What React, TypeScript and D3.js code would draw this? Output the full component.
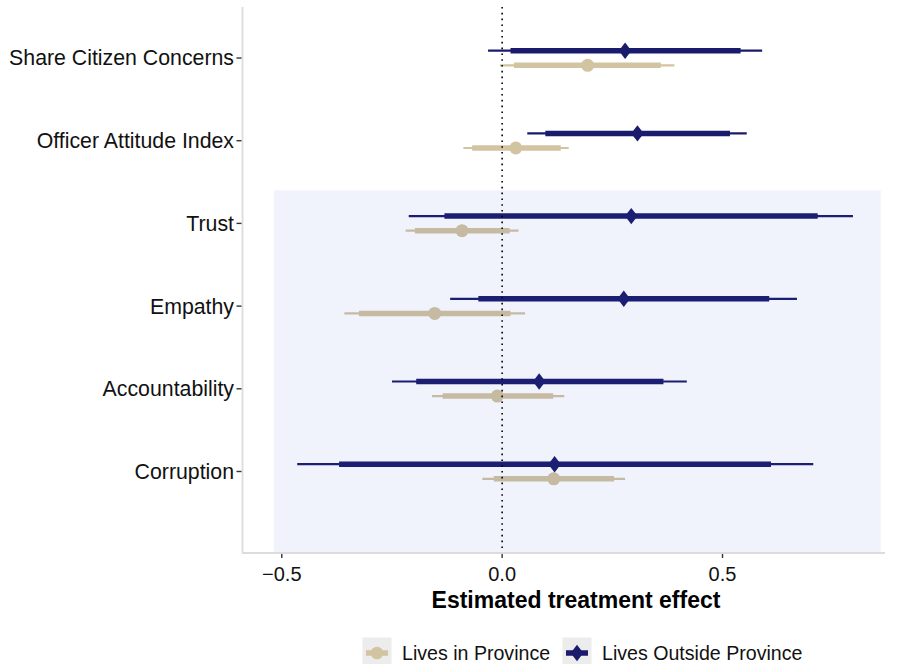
import React from "react";
import * as d3 from "d3";

const categories = [
  "Share Citizen Concerns",
  "Officer Attitude Index",
  "Trust",
  "Empathy",
  "Accountability",
  "Corruption",
];

// Lives in Province (beige, circles)
const inEst = [0.194, 0.031, -0.091, -0.153, -0.011, 0.117];
const inLo95 = [-0.005, -0.088, -0.219, -0.358, -0.159, -0.045];
const inHi95 = [0.391, 0.151, 0.037, 0.052, 0.141, 0.279];
const inLo90 = [0.027, -0.068, -0.198, -0.325, -0.135, -0.019];
const inHi90 = [0.36, 0.133, 0.017, 0.019, 0.116, 0.254];

// Lives Outside Province (navy, diamonds)
const outEst = [0.279, 0.307, 0.293, 0.276, 0.084, 0.119];
const outLo95 = [-0.032, 0.057, -0.212, -0.118, -0.25, -0.465];
const outHi95 = [0.59, 0.555, 0.796, 0.669, 0.419, 0.706];
const outLo90 = [0.019, 0.098, -0.131, -0.054, -0.195, -0.37];
const outHi90 = [0.541, 0.517, 0.716, 0.606, 0.366, 0.61];

const xTicks = [-0.5, 0, 0.5];
const xTickLabels = ["\u22120.5", "0.0", "0.5"];
const legendLabels = ["Lives in Province", "Lives Outside Province"];
const shadeX = [-0.518, 0.859];
const shadeFromCategory = "Trust";

const BEIGE = "#d2c4a0";
const NAVY = "#1b1b6d";
const FONT = "'Liberation Sans', Arial, Helvetica, sans-serif";

export default function App() {
  const W = 897;
  const H = 664;
  const panelLeft = 242.5;
  const panelTop = 7;
  const panelBottom = 553;

  const x = d3.scaleLinear().domain([-0.5, 0.5]).range([281.8, 722.5]);
  const y = d3.scalePoint<string>().domain(categories).range([58, 471.5]);
  const step = y.step();
  const dodge = 7.3;

  const series = [
    { name: legendLabels[0], color: BEIGE, est: inEst, lo95: inLo95, hi95: inHi95, lo90: inLo90, hi90: inHi90, off: dodge, shape: "circle" },
    { name: legendLabels[1], color: NAVY, est: outEst, lo95: outLo95, hi95: outHi95, lo90: outLo90, hi90: outHi90, off: -dodge, shape: "diamond" },
  ];

  const diamond = (cx: number, cy: number, hw: number, hh: number) =>
    `M${cx},${cy - hh}L${cx + hw},${cy}L${cx},${cy + hh}L${cx - hw},${cy}Z`;

  const shadeTop = (y(shadeFromCategory) as number) - 0.4 * step;

  return (
    <svg width={W} height={H} style={{ position: "absolute", left: 0, top: 0, background: "#fff" }} fontFamily={FONT}>
      <rect x={0} y={0} width={W} height={H} fill="#fff" />
      {/* marks */}
      {series.map((s) => (
        <g key={s.name}>
          {categories.map((c, i) => {
            const cy = (y(c) as number) + s.off;
            const cx = x(s.est[i]);
            return (
              <g key={c}>
                <line x1={x(s.lo95[i])} x2={x(s.hi95[i])} y1={cy} y2={cy} stroke={s.color} strokeWidth={2.2} />
                <line x1={x(s.lo90[i])} x2={x(s.hi90[i])} y1={cy} y2={cy} stroke={s.color} strokeWidth={5.5} />
                {s.shape === "circle" ? (
                  <circle cx={cx} cy={cy} r={6.5} fill={s.color} />
                ) : (
                  <path d={diamond(cx, cy, 6.3, 8.2)} fill={s.color} />
                )}
              </g>
            );
          })}
        </g>
      ))}
      {/* shaded region drawn with transparency */}
      <rect
        x={x(shadeX[0])}
        y={shadeTop}
        width={x(shadeX[1]) - x(shadeX[0])}
        height={panelBottom - 1 - shadeTop}
        fill="rgb(30,75,200)"
        fillOpacity={0.065}
      />
      {/* zero line */}
      <line x1={x(0)} x2={x(0)} y1={panelTop} y2={panelBottom} stroke="#000" strokeWidth={1.6} strokeDasharray="1.6,4.2" />
      {/* axes */}
      <line x1={panelLeft} x2={panelLeft} y1={panelTop} y2={panelBottom + 0.8} stroke="#dcdcdc" strokeWidth={1.8} />
      <line x1={panelLeft} x2={885} y1={panelBottom} y2={panelBottom} stroke="#dcdcdc" strokeWidth={1.8} />
      {/* y ticks & labels */}
      {categories.map((c) => (
        <g key={c}>
          <line x1={236.5} x2={241.5} y1={y(c) as number} y2={y(c) as number} stroke="#333" strokeWidth={1.4} />
          <text x={234} y={(y(c) as number) + 7.4} textAnchor="end" fontSize={21.3} fill="#111">
            {c}
          </text>
        </g>
      ))}
      {/* x ticks & labels */}
      {xTicks.map((t, i) => (
        <g key={t}>
          <line x1={x(t)} x2={x(t)} y1={panelBottom + 1} y2={panelBottom + 5} stroke="#333" strokeWidth={1.4} />
          <text x={x(t)} y={580.5} textAnchor="middle" fontSize={20} fill="#111">
            {xTickLabels[i]}
          </text>
        </g>
      ))}
      <text x={576} y={607.5} textAnchor="middle" fontSize={23} fontWeight="bold" fill="#000">
        Estimated treatment effect
      </text>
      {/* legend */}
      {series.map((s, i) => {
        const bx = i === 0 ? 362.5 : 562.5;
        const by = 637.5;
        const cx = bx + 14.5;
        const cy = by + 15.5;
        return (
          <g key={s.name}>
            <rect x={bx} y={by} width={29} height={30} fill="#ececec" />
            <line x1={bx + 3.5} x2={bx + 25.5} y1={cy} y2={cy} stroke={s.color} strokeWidth={5.5} />
            {s.shape === "circle" ? (
              <circle cx={cx} cy={cy} r={6.3} fill={s.color} />
            ) : (
              <path d={diamond(cx, cy, 6.3, 8.2)} fill={s.color} />
            )}
            <text x={bx + 39.5} y={cy + 7} fontSize={19.6} fill="#111">
              {s.name}
            </text>
          </g>
        );
      })}
    </svg>
  );
}
